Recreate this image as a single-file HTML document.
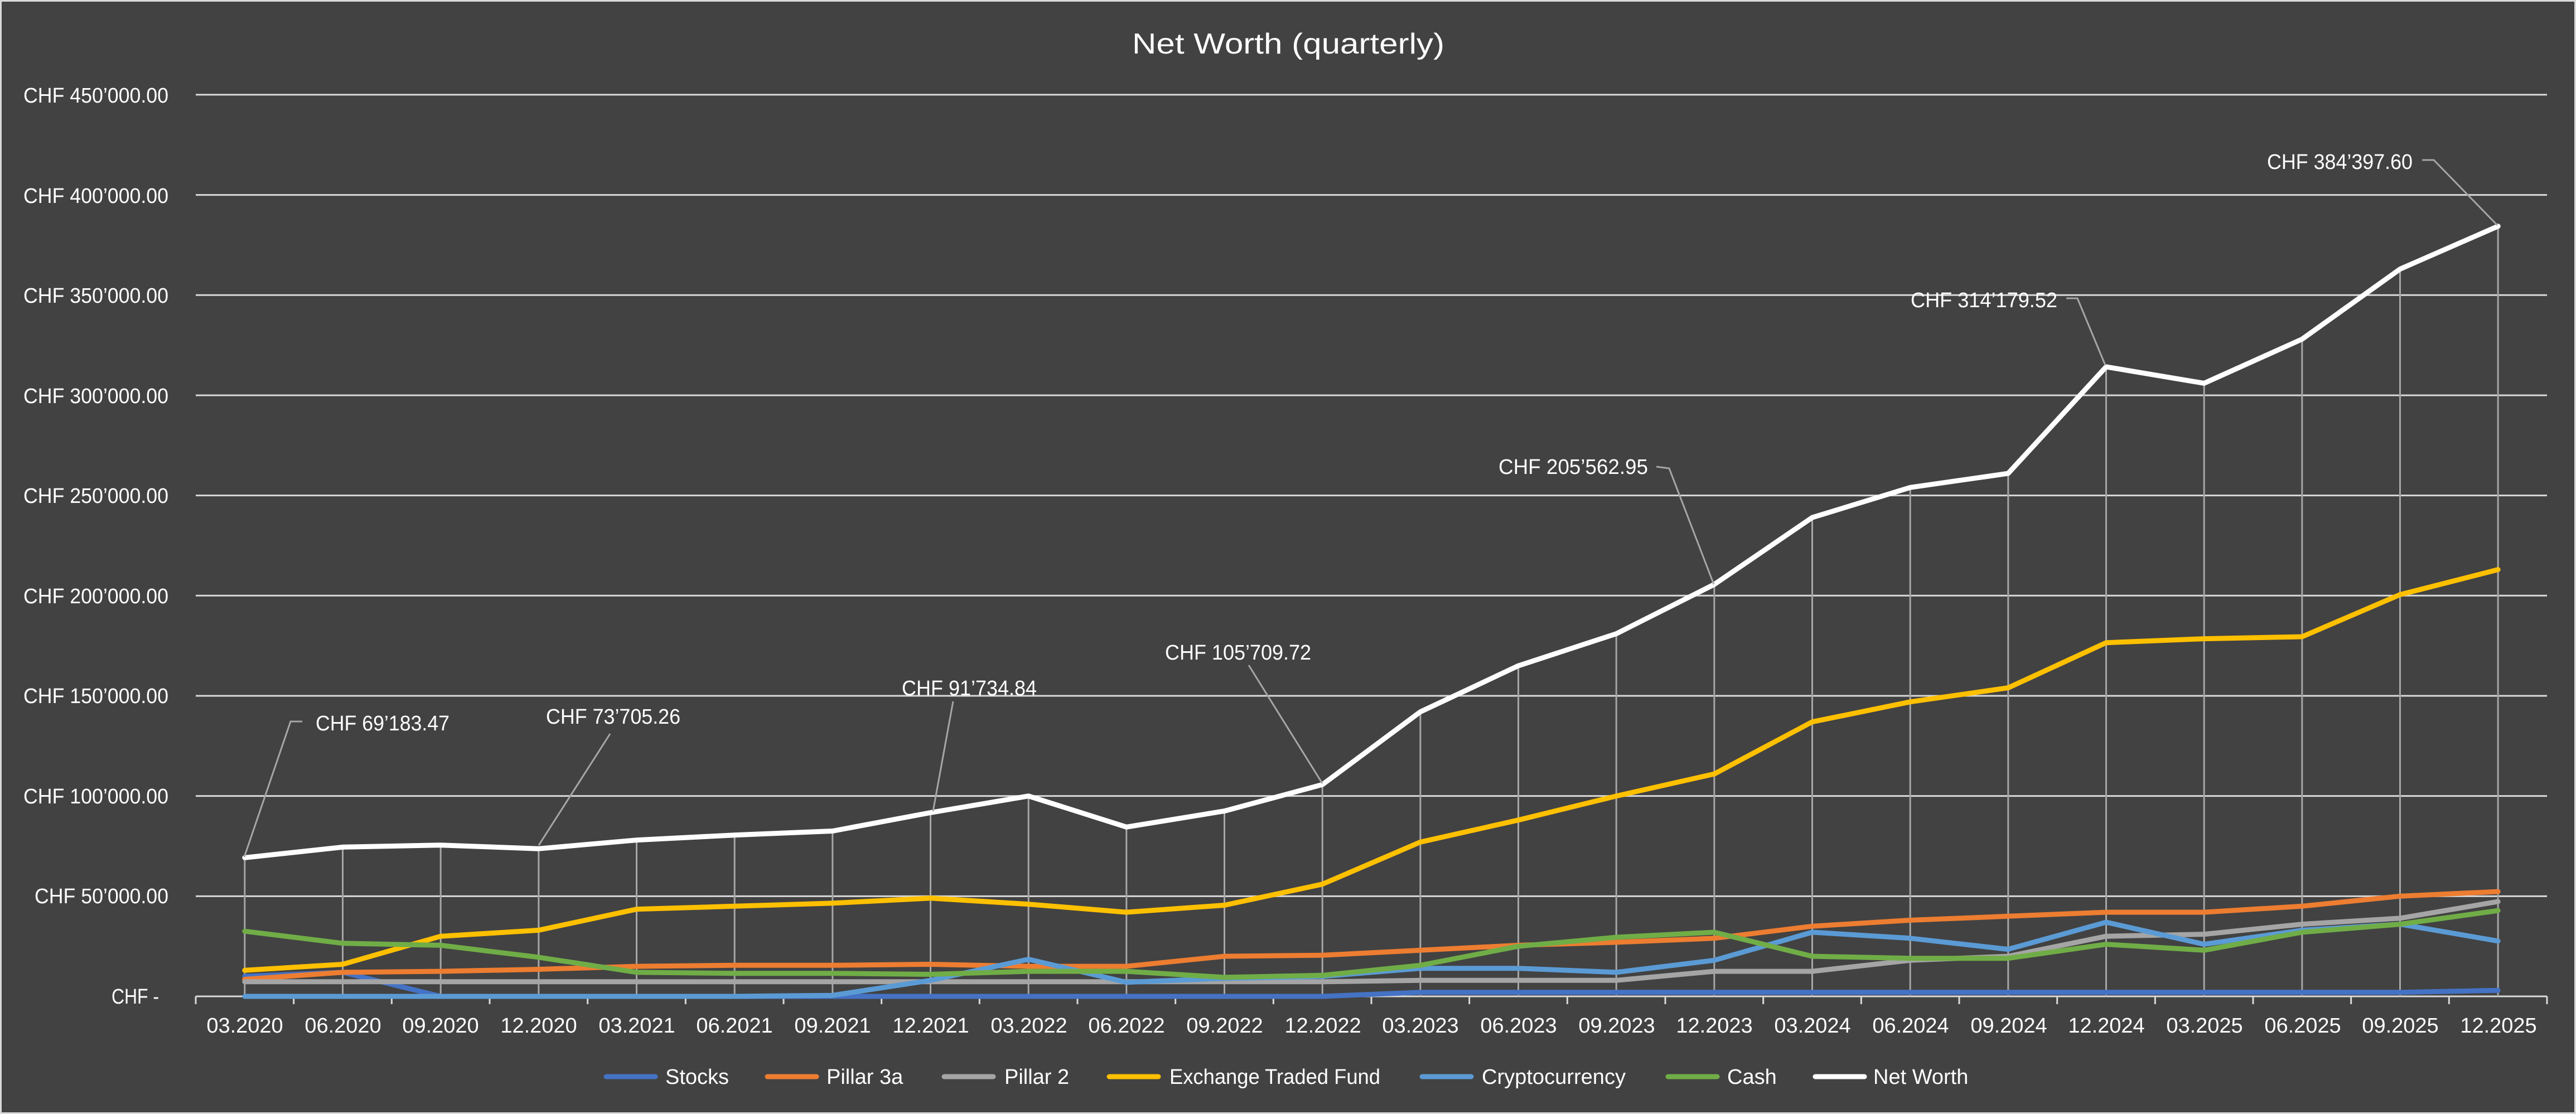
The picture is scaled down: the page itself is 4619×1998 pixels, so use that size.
<!DOCTYPE html>
<html><head><meta charset="utf-8"><style>
html,body{margin:0;padding:0;background:#424242;}
svg{display:block}
text{font-family:"Liberation Sans Narrow","Liberation Sans",sans-serif;fill:#fff;}
</style></head><body>
<svg id="s" width="4619" height="1998" viewBox="0 0 4619 1998" xmlns="http://www.w3.org/2000/svg">
<rect x="0" y="0" width="4619" height="1998" fill="#d9d9d9"/>
<rect x="3" y="3" width="4613" height="1992" fill="#424242"/>
<g id="grid"></g>
<g id="drops"></g>
<g id="series"></g>
<g id="leaders" stroke="#a6a6a6" stroke-width="3" fill="none">
<polyline points="542,1294 521,1294 438,1537"/>
<polyline points="1094,1316 966,1516"/>
<polyline points="1709,1258 1673,1455"/>
<polyline points="2239,1193 2371,1405"/>
<polyline points="2970,837 2993,840 3073,1048"/>
<polyline points="3705,535 3725,535 3775,655"/>
<polyline points="4343,287 4364,287 4478,404"/>
</g>
<text x="2310" y="96" font-size="52" text-anchor="middle" textLength="560" lengthAdjust="spacingAndGlyphs">Net Worth (quarterly)</text>
<g font-size="38" text-anchor="end">
<text x="302" y="184" textLength="260" lengthAdjust="spacingAndGlyphs">CHF 450’000.00</text>
<text x="302" y="364" textLength="260" lengthAdjust="spacingAndGlyphs">CHF 400’000.00</text>
<text x="302" y="543" textLength="260" lengthAdjust="spacingAndGlyphs">CHF 350’000.00</text>
<text x="302" y="723" textLength="260" lengthAdjust="spacingAndGlyphs">CHF 300’000.00</text>
<text x="302" y="902" textLength="260" lengthAdjust="spacingAndGlyphs">CHF 250’000.00</text>
<text x="302" y="1082" textLength="260" lengthAdjust="spacingAndGlyphs">CHF 200’000.00</text>
<text x="302" y="1261" textLength="260" lengthAdjust="spacingAndGlyphs">CHF 150’000.00</text>
<text x="302" y="1441" textLength="260" lengthAdjust="spacingAndGlyphs">CHF 100’000.00</text>
<text x="302" y="1620" textLength="240" lengthAdjust="spacingAndGlyphs">CHF 50’000.00</text>
<text x="285" y="1800" textLength="85" lengthAdjust="spacingAndGlyphs">CHF -</text>
</g>
<g font-size="38" text-anchor="middle">
<text x="439" y="1852">03.2020</text><text x="615" y="1852">06.2020</text><text x="790" y="1852">09.2020</text><text x="966" y="1852">12.2020</text>
<text x="1142" y="1852">03.2021</text><text x="1317" y="1852">06.2021</text><text x="1493" y="1852">09.2021</text><text x="1669" y="1852">12.2021</text>
<text x="1845" y="1852">03.2022</text><text x="2020" y="1852">06.2022</text><text x="2196" y="1852">09.2022</text><text x="2372" y="1852">12.2022</text>
<text x="2547" y="1852">03.2023</text><text x="2723" y="1852">06.2023</text><text x="2899" y="1852">09.2023</text><text x="3074" y="1852">12.2023</text>
<text x="3250" y="1852">03.2024</text><text x="3426" y="1852">06.2024</text><text x="3602" y="1852">09.2024</text><text x="3777" y="1852">12.2024</text>
<text x="3953" y="1852">03.2025</text><text x="4129" y="1852">06.2025</text><text x="4304" y="1852">09.2025</text><text x="4480" y="1852">12.2025</text>
</g>
<g font-size="38">
<text x="566" y="1310" textLength="240" lengthAdjust="spacingAndGlyphs">CHF 69’183.47</text>
<text x="979" y="1298" textLength="241" lengthAdjust="spacingAndGlyphs">CHF 73’705.26</text>
<text x="1617" y="1247" textLength="242" lengthAdjust="spacingAndGlyphs">CHF 91’734.84</text>
<text x="2089" y="1183" textLength="262" lengthAdjust="spacingAndGlyphs">CHF 105’709.72</text>
<text x="2687" y="850" textLength="268" lengthAdjust="spacingAndGlyphs">CHF 205’562.95</text>
<text x="3426" y="551" textLength="263" lengthAdjust="spacingAndGlyphs">CHF 314’179.52</text>
<text x="4065" y="303" textLength="261" lengthAdjust="spacingAndGlyphs">CHF 384’397.60</text>
</g>
<g stroke-width="9" stroke-linecap="round">
<line x1="1087" y1="1931" x2="1175" y2="1931" stroke="#4472c4"/>
<line x1="1376" y1="1931" x2="1464" y2="1931" stroke="#ed7d31"/>
<line x1="1693" y1="1931" x2="1781" y2="1931" stroke="#a5a5a5"/>
<line x1="1989" y1="1931" x2="2077" y2="1931" stroke="#ffc000"/>
<line x1="2550" y1="1931" x2="2638" y2="1931" stroke="#5b9bd5"/>
<line x1="2991" y1="1931" x2="3079" y2="1931" stroke="#70ad47"/>
<line x1="3255" y1="1931" x2="3343" y2="1931" stroke="#ffffff"/>
</g>
<g font-size="38">
<text x="1193" y="1944">Stocks</text>
<text x="1482" y="1944">Pillar 3a</text>
<text x="1801" y="1944">Pillar 2</text>
<text x="2097" y="1944" textLength="378" lengthAdjust="spacingAndGlyphs">Exchange Traded Fund</text>
<text x="2657" y="1944" textLength="258" lengthAdjust="spacingAndGlyphs">Cryptocurrency</text>
<text x="3097" y="1944">Cash</text>
<text x="3359" y="1944">Net Worth</text>
</g>
</svg>
<script>
(function(){
var NS="http://www.w3.org/2000/svg";
function el(p,n,a){var e=document.createElementNS(NS,n);for(var k in a)e.setAttribute(k,a[k]);document.getElementById(p).appendChild(e);return e;}
var y0=1787,k=3.5935,L=351,R=4567,cw=(R-L)/24;
function X(i){return L+cw*(i+0.5);}function Y(v){return y0-v*k;}
for(var g=1;g<=9;g++)el("grid","line",{x1:L,x2:R,y1:Y(g*50),y2:Y(g*50),stroke:"#d9d9d9","stroke-width":3});
el("grid","line",{x1:L,x2:R,y1:y0,y2:y0,stroke:"#d9d9d9","stroke-width":3});
for(var t=0;t<=24;t++)el("grid","line",{x1:L+cw*t,x2:L+cw*t,y1:y0,y2:y0+14,stroke:"#d9d9d9","stroke-width":3});
var nw=[69.2,74.5,75.5,73.7,78,80.5,82.5,91.7,100,84.5,92.5,105.7,142,165,181,205.6,239,254,261,314.2,306,328,363,384.4];
for(var i=0;i<24;i++)el("drops","line",{x1:X(i),x2:X(i),y1:Y(nw[i]),y2:y0,stroke:"#a6a6a6","stroke-width":3});
var S=[
["#4472c4",[10,12,0,0,0,0,0,0,0,0,0,0,2,2,2,2,2,2,2,2,2,2,2,3]],
["#ed7d31",[8.5,12,12.5,13.5,15,15.5,15.5,16,15,15,20,20.5,23,25.5,27,29,35,38,40,42,42,45,50,52.3]],
["#a5a5a5",[7.3,7.3,7.3,7.3,7.3,7.3,7.3,7.3,7.3,7.3,7.3,7.3,8,8,8,12.5,12.5,18,20,30,31,36,39,47.3]],
["#ffc000",[13,16,30,33,43.5,45,46.5,49,46,42,45.5,56,77,88,100,111,137,147,154,176.5,178.5,179.5,200.5,213]],
["#5b9bd5",[0,0,0,0,0,0,0.5,8,18.5,7,9,10,14,14,12,18,32,29,23.5,37,26,33,36,27.6]],
["#70ad47",[32.5,26.5,25.5,19.5,12,11.5,11.5,11,12.5,12.5,9.5,10.5,15.5,25,29.5,32,20,19,19,26,23,32,36,42.8]],
["#ffffff",nw]];
S.forEach(function(s){var p=s[1].map(function(v,i){return X(i).toFixed(1)+","+Y(v).toFixed(1)}).join(" ");
el("series","polyline",{points:p,fill:"none",stroke:s[0],"stroke-width":9,"stroke-linejoin":"round","stroke-linecap":"round"});});
})();
</script>
</body></html>
